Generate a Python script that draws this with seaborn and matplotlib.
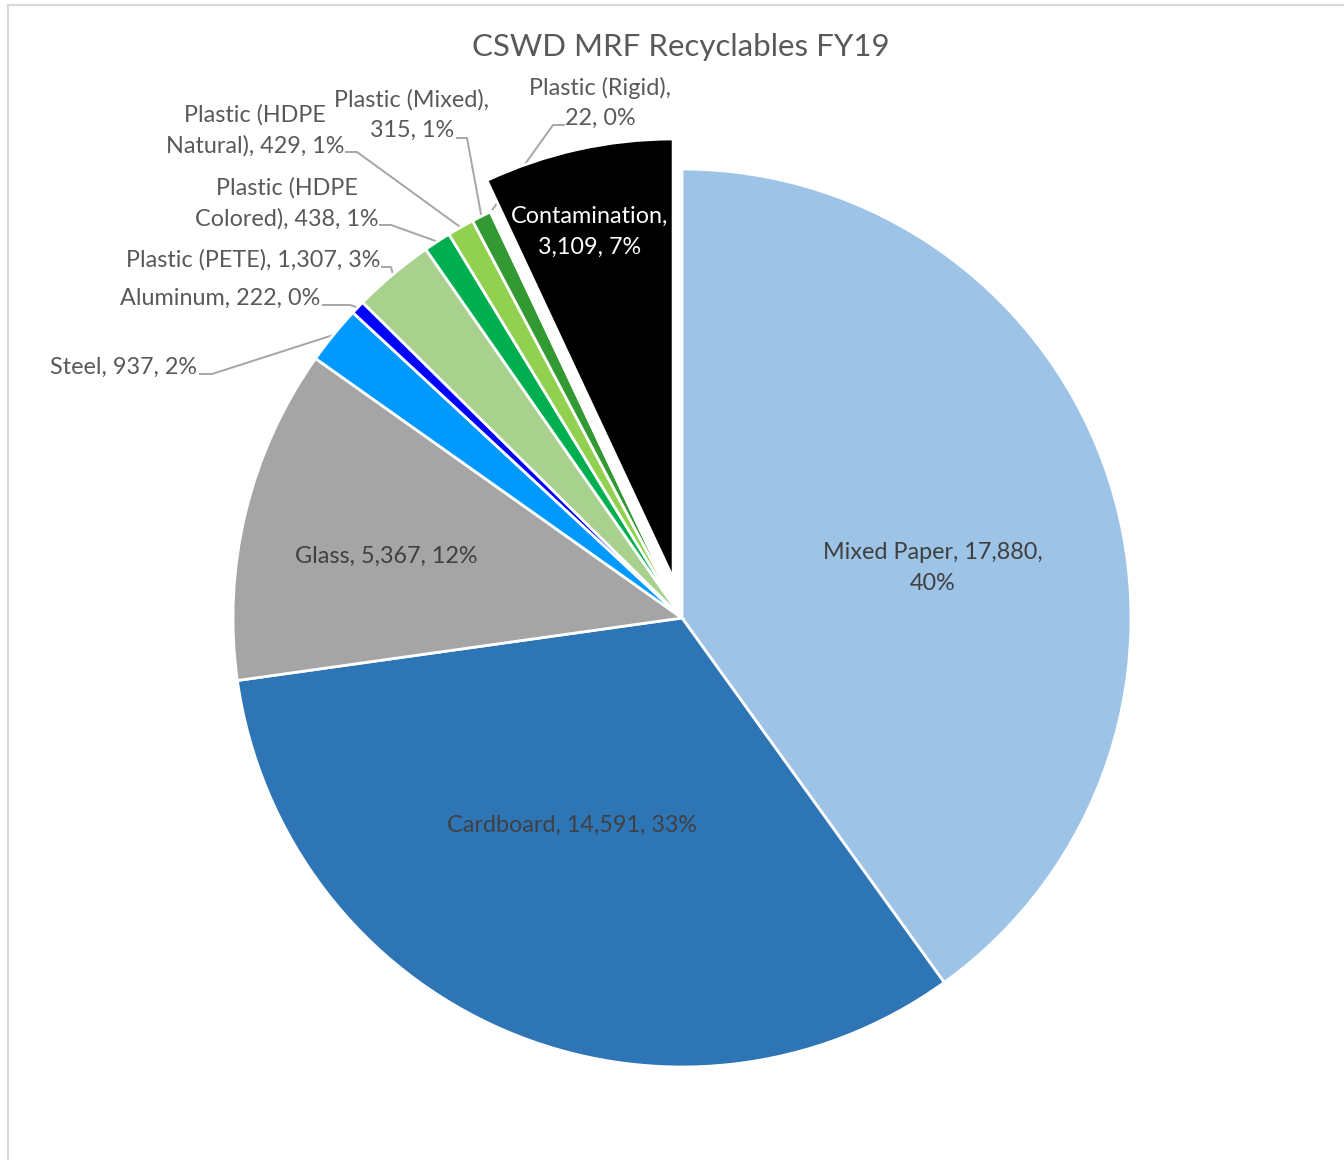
import matplotlib
matplotlib.use("Agg")
import matplotlib.pyplot as plt
import matplotlib.patches as mpatches
import seaborn as sns
import numpy as np

# ---------------- data ----------------
categories = ["Mixed Paper", "Cardboard", "Glass", "Steel", "Aluminum",
              "Plastic (PETE)", "Plastic (HDPE Colored)", "Plastic (HDPE Natural)",
              "Plastic (Mixed)", "Plastic (Rigid)", "Contamination"]
tons = [17880, 14591, 5367, 937, 222, 1307, 438, 429, 315, 22, 3109]
label_texts = ["Mixed Paper, 17,880,\n40%",
               "Cardboard, 14,591, 33%",
               "Glass, 5,367, 12%",
               "Steel, 937, 2%",
               "Aluminum, 222, 0%",
               "Plastic (PETE), 1,307, 3%",
               "Plastic (HDPE\nColored), 438, 1%",
               "Plastic (HDPE\nNatural), 429, 1%",
               "Plastic (Mixed),\n315, 1%",
               "Plastic (Rigid),\n22, 0%",
               "Contamination,\n3,109, 7%"]
colors_hex = ["#9DC3E6", "#2E75B6", "#A5A5A5", "#0099FF", "#0000FF",
              "#A9D18E", "#00B050", "#92D050", "#339933", "#70AD47", "#000000"]
title = "CSWD MRF Recyclables FY19"

# ---------------- layout ----------------
W, H = 1344, 1160
CX, CY, R = 682, 618, 449  # pixel centre / radius of the pie


def px(x, y):
    """pixel (from top-left) -> data units (radius = 1)"""
    return (x - CX) / R, (CY - y) / R


sns.set_theme(style="white")
plt.rcParams['font.family'] = ['Lato', 'DejaVu Sans']

fig = plt.figure(figsize=(W / 100, H / 100), dpi=100)
ax = fig.add_axes([0, 0, 1, 1])

palette = sns.color_palette(colors_hex)
explode = [0] * (len(tons) - 1) + [0.091]
wedges, _ = ax.pie(tons, colors=palette, startangle=90, counterclock=False,
                   radius=1.0, explode=explode,
                   wedgeprops=dict(edgecolor="white", linewidth=2.0))
wedges[-1].set_radius(0.978)

x0, y1 = px(0, 0)
x1, y0 = px(W, H)
ax.set_xlim(x0, x1)
ax.set_ylim(y0, y1)
ax.set_aspect("equal")
ax.axis("off")

# label placements (pixel centre, horizontal alignment, colour)
inside = {0: ((933, 568), "#404040"),
          1: ((572, 825), "#404040"),
          2: ((386, 556), "#404040"),
          10: ((590, 232), "white")}
outside = {3: ((197, 367), "right"),
           4: ((320, 298), "right"),
           5: ((380, 260), "right"),
           6: ((287, 203), "center"),
           7: ((255, 130), "center"),
           8: ((412, 115), "center"),
           9: ((600, 103), "center")}
# leader start points and elbow (pixels)
leaders = {3: [(199, 374), (212, 374)],
           4: [(322, 305), (350, 305)],
           5: [(381, 267), (391, 267)],
           6: [(379, 225), (391, 225)],
           7: [(345, 152), (357, 152)],
           8: [(456, 138), (467, 138)],
           9: [(565, 125), (553, 125)]}

FS = 16.8
LS = 1.55
for i, ((x, y), c) in inside.items():
    ax.text(*px(x, y), label_texts[i], ha="center", va="center", fontsize=FS,
            color=c, linespacing=LS, multialignment="center")

for i, ((x, y), ha) in outside.items():
    ax.text(*px(x, y), label_texts[i], ha=ha, va="center", fontsize=FS,
            color="#595959", linespacing=LS, multialignment="center")

for i, pts in leaders.items():
    w = wedges[i]
    tm = np.deg2rad((w.theta1 + w.theta2) / 2)
    cx, cy = w.center
    end = (cx + w.r * np.cos(tm), cy + w.r * np.sin(tm))
    xs = [px(*p)[0] for p in pts] + [end[0]]
    ys = [px(*p)[1] for p in pts] + [end[1]]
    ax.plot(xs, ys, color="#A6A6A6", lw=1.4, solid_capstyle="butt", zorder=0.5)

ax.text(*px(681, 47), title, ha="center", va="center", fontsize=22.5,
        color="#595959")

# chart frame
fig.add_artist(mpatches.Rectangle((8 / W, -0.02), 1.2, (H - 5) / H + 0.02,
                                  transform=fig.transFigure, fill=False,
                                  ec="#D9D9D9", lw=1.5))

fig.savefig("out.png", dpi=100, facecolor="white")
